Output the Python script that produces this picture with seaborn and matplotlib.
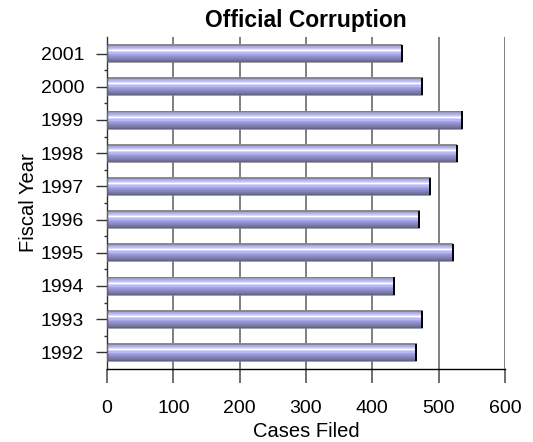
import numpy as np
import pandas as pd
import matplotlib
matplotlib.use("Agg")
import matplotlib.pyplot as plt
from matplotlib.colors import to_rgb
from matplotlib.ticker import MultipleLocator, FixedLocator
import seaborn as sns

# data
years = ["2001", "2000", "1999", "1998", "1997", "1996", "1995", "1994", "1993", "1992"]
cases = [444, 475, 535, 527, 487, 471, 521, 433, 475, 466]

df = pd.DataFrame({"year": years, "cases": cases})

sns.set_style("white")
plt.rcParams["font.family"] = ["Liberation Sans", "DejaVu Sans"]
plt.rcParams["text.color"] = "black"
plt.rcParams["axes.labelcolor"] = "black"
plt.rcParams["xtick.color"] = "black"
plt.rcParams["ytick.color"] = "black"

fig = plt.figure(figsize=(5.33, 4.42), dpi=100)
ax = fig.add_axes([0.2008, 0.1652, 0.7467, 0.7511])

sns.barplot(data=df, x="cases", y="year", order=years, orient="h",
            width=0.52, color="#a8a8e8", ax=ax)

# striped gradient fill (top -> bottom)
stripe = ["#8c8c8c", "#9c9cbc", "#a8a8dc", "#b4b4ec", "#c4c4f6", "#dcdcff",
          "#ffffff", "#d4d4fa", "#b8b8f2", "#a4a4e6", "#9a9adc", "#9292d0",
          "#8a8ac2", "#8282b4", "#7a7aa6", "#727298", "#64648a"]
grad = np.array([to_rgb(c) for c in stripe])[:, None, :]

for p in ax.patches:
    x0, y0 = p.get_x(), p.get_y()
    w, h = p.get_width(), p.get_height()
    ax.imshow(grad, extent=(x0, x0 + w, y0 + h, y0), aspect="auto",
              interpolation="nearest", zorder=2)
    p.set_facecolor("none")
    p.set_edgecolor("#7a7a8a")
    p.set_linewidth(0.5)
    p.set_zorder(3)
    ax.plot([x0 + w, x0 + w], [y0, y0 + h], color="black", lw=1.4, zorder=4,
            solid_capstyle="butt")

ax.set_xlim(0, 600)
ax.set_ylim(len(years) - 0.5, -0.5)
ax.xaxis.set_major_locator(MultipleLocator(100))
ax.yaxis.set_minor_locator(FixedLocator(np.arange(0.5, len(years) - 1, 1.0)))

ax.set_axisbelow(True)
ax.grid(axis="x", color="#6a6a6a", linewidth=1.2)
ax.get_xgridlines()[-1].set_color("black")
ax.get_xgridlines()[0].set_visible(False)

for s in ["top", "right"]:
    ax.spines[s].set_visible(False)
ax.spines["left"].set_color("#333333")
ax.spines["bottom"].set_color("black")
ax.spines["left"].set_linewidth(1.0)
ax.spines["bottom"].set_linewidth(1.0)

ax.tick_params(axis="x", direction="out", length=10, width=1.2, color="#555555",
               pad=12, labelsize=14, bottom=True)
ax.tick_params(axis="y", which="major", direction="out", length=8, width=1.0,
               color="#333333", pad=8.5, labelsize=14, left=True)
ax.tick_params(axis="y", which="minor", direction="out", length=2, width=1.0,
               color="#333333", left=True)

ax.set_title("Official Corruption", fontsize=16.5, fontweight="bold", pad=7)
ax.set_xlabel("Cases Filed", fontsize=14.5, labelpad=4)
ax.set_ylabel("Fiscal Year", fontsize=14.5, labelpad=2)

fig.savefig("out.png", dpi=100)
